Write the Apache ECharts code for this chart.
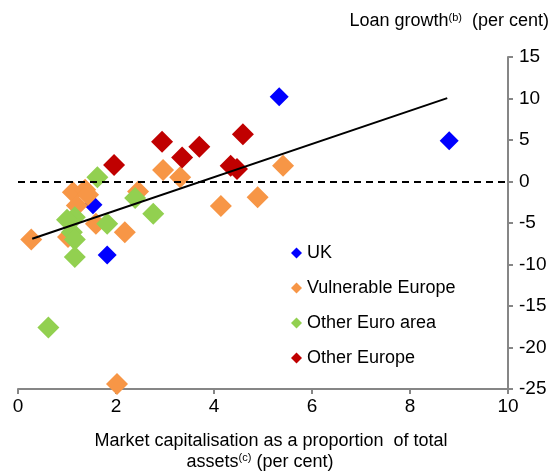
<!DOCTYPE html>
<html>
<head>
    <meta charset="utf-8">
    <title>scatter</title>
    <style type="text/css">
        * {
            margin: 0;
            padding: 0;
        }

        #canvas {
            width: 558px;
            height: 474px;
            background: #fff;
        }
    </style>
</head>
<body>

<div id="canvas"></div>

<script src="https://cdn.jsdelivr.net/npm/echarts@6/dist/echarts.min.js"></script>
<script type="text/javascript">

    //  series names
    let seriesNames = ['UK', 'Vulnerable Europe', 'Other Euro area', 'Other Europe'];

    //  [market cap / total assets, loan growth]
    let ukPoints = [[5.33, 10.2], [8.8, 4.9], [1.82, -8.85], [1.53, -2.8]];
    let vulnerablePoints = [
        [0.27, -7.0], [1.02, -6.7], [1.12, -1.3], [1.37, -1.0], [1.43, -1.6],
        [1.2, -2.9], [1.59, -5.1], [2.18, -6.1], [2.45, -1.2], [2.96, 1.4],
        [3.31, 0.5], [4.14, -2.95], [4.89, -1.9], [5.41, 1.9], [2.02, -24.4]
    ];
    let otherEuroPoints = [
        [1.62, 0.5], [2.39, -2.0], [2.76, -3.9], [1.82, -5.1], [1.16, -4.3],
        [1.0, -4.6], [1.1, -6.1], [1.16, -7.0], [1.16, -9.1], [0.62, -17.6]
    ];
    let otherEuropePoints = [
        [1.96, 2.0], [2.94, 4.8], [3.35, 2.9], [3.7, 4.2], [4.59, 5.7],
        [4.34, 1.9], [4.47, 1.5]
    ];

    //  fitted line end points
    let trendLine = [[0.29, -6.9], [8.76, 10.05]];

    //  axis ranges
    let xRange = [0, 10, 2];
    let yRange = [-25, 15, 5];

    let font = 'Liberation Sans, Arial, sans-serif';
    let colors = ['#0000ff', '#f79646', '#92d050', '#c00000'];

    var myChart = echarts.init(document.getElementById('canvas'));

    function scatter(i, data, size) {
        return {
            name: seriesNames[i],
            type: 'scatter',
            symbol: 'diamond',
            symbolSize: size,
            data: data,
            itemStyle: {color: colors[i], opacity: 1},
            animation: false,
            z: 2 + i
        };
    }

    var option = {
        animation: false,
        textStyle: {fontFamily: font},
        grid: {
            left: 18,
            right: 50,
            top: 57,
            bottom: 85,
            containLabel: false,
            outerBoundsMode: 'none'
        },
        legend: {
            orient: 'vertical',
            left: 286,
            top: 239,
            itemWidth: 11,
            itemHeight: 11,
            itemGap: 17,
            icon: 'diamond',
            data: seriesNames,
            textStyle: {fontSize: 18, color: '#000', fontFamily: font, lineHeight: 18}
        },
        graphic: [
            {
                type: 'text',
                right: 9,
                top: 12,
                style: {
                    text: '{a|Loan growth}{s|(b)}{a|  (per cent)}',
                    fill: '#000',
                    rich: {
                        a: {fontSize: 18, fontFamily: font, fill: '#000'},
                        s: {fontSize: 11, fontFamily: font, fill: '#000', verticalAlign: 'top', padding: [0, 0, 8, 0]}
                    }
                }
            },
            {
                type: 'text',
                x: 271,
                y: 441,
                style: {
                    text: 'Market capitalisation as a proportion  of total',
                    fontSize: 18,
                    fontFamily: font,
                    fill: '#000',
                    align: 'center',
                    verticalAlign: 'middle'
                }
            },
            {
                type: 'text',
                x: 260,
                y: 462,
                style: {
                    text: '{a|assets}{s|(c)}{a| (per cent)}',
                    align: 'center',
                    verticalAlign: 'middle',
                    rich: {
                        a: {fontSize: 18, fontFamily: font, fill: '#000'},
                        s: {fontSize: 11, fontFamily: font, fill: '#000', padding: [0, 0, 8, 0]}
                    }
                }
            }
        ],
        xAxis: {
            type: 'value',
            min: xRange[0],
            max: xRange[1],
            interval: xRange[2],
            axisLine: {onZero: false, lineStyle: {color: '#868686', width: 2}},
            axisTick: {show: true, length: 5, lineStyle: {color: '#868686', width: 2}},
            axisLabel: {fontSize: 19, color: '#000', margin: 8, fontFamily: font},
            splitLine: {show: false}
        },
        yAxis: {
            type: 'value',
            position: 'right',
            min: yRange[0],
            max: yRange[1],
            interval: yRange[2],
            axisLine: {show: true, onZero: false, lineStyle: {color: '#868686', width: 2}},
            axisTick: {show: true, length: 5, lineStyle: {color: '#868686', width: 2}},
            axisLabel: {fontSize: 19, color: '#000', margin: 11, fontFamily: font},
            splitLine: {show: false}
        },
        series: [
            scatter(0, ukPoints, 19),
            scatter(1, vulnerablePoints, 22),
            scatter(2, otherEuroPoints, 22),
            scatter(3, otherEuropePoints, 22),
            {
                name: 'trend',
                type: 'line',
                data: trendLine,
                symbol: 'none',
                lineStyle: {color: '#000', width: 2},
                z: 10,
                animation: false,
                markLine: {
                    silent: true,
                    symbol: 'none',
                    label: {show: false},
                    lineStyle: {color: '#000', width: 2, type: [7, 5]},
                    data: [{yAxis: 0}]
                }
            }
        ]
    };

    myChart.setOption(option);
</script>
</body>
</html>
